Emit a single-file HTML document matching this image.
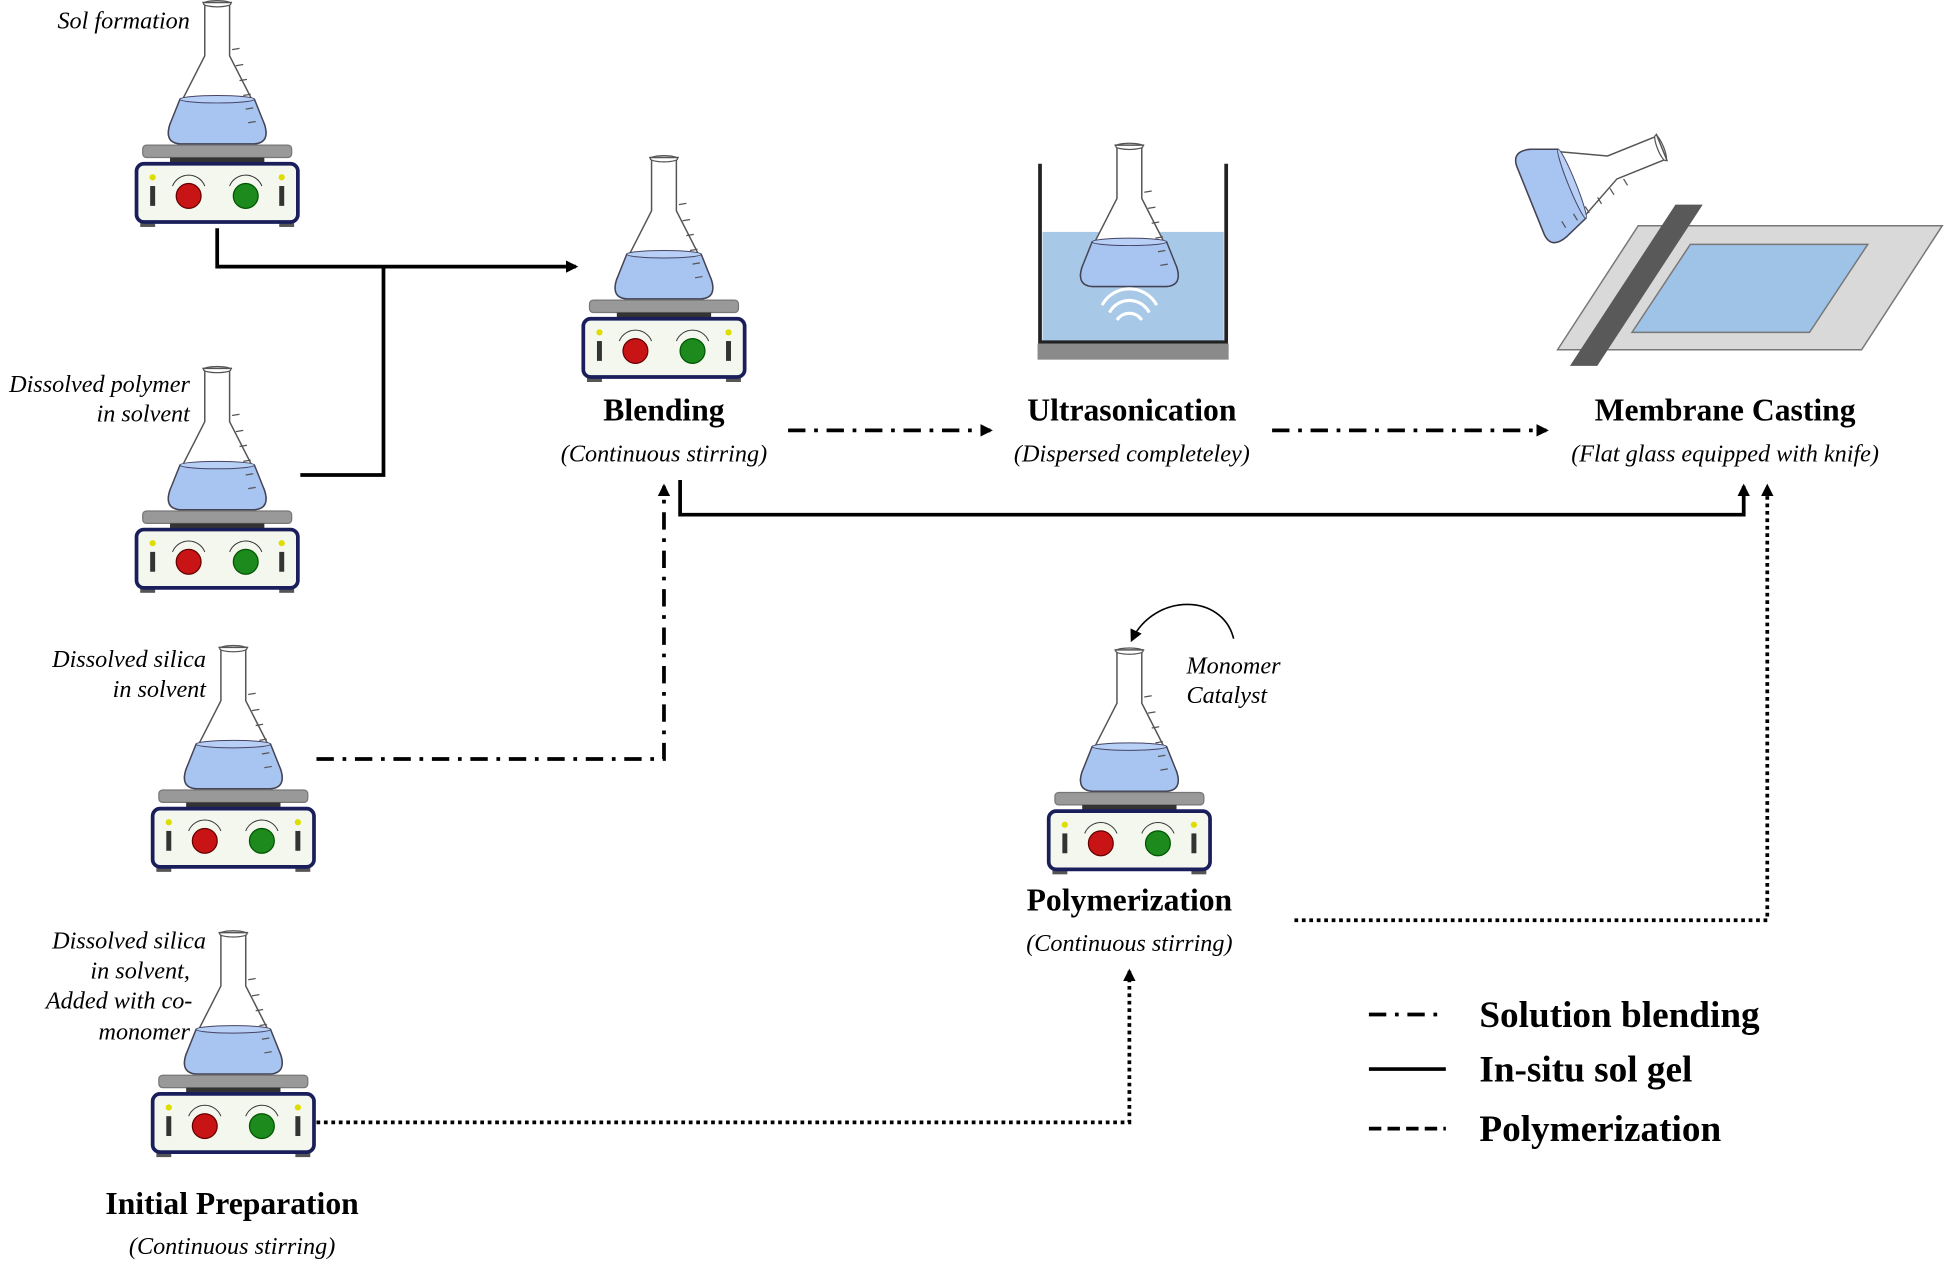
<!DOCTYPE html>
<html><head><meta charset="utf-8"><style>
html,body{margin:0;padding:0;background:#fff}
svg{display:block}
text{font-family:"Liberation Serif",serif}
.b{font-weight:bold;font-size:25.5px}
.i{font-style:italic;font-size:19.5px}
.l{font-weight:bold;font-size:30px}
</style></head><body>
<svg width="1946" height="1265" viewBox="0 0 1568 1020" preserveAspectRatio="none" xmlns="http://www.w3.org/2000/svg">
<defs>
<marker id="ar" markerWidth="10" markerHeight="10" refX="8" refY="5" orient="auto" markerUnits="userSpaceOnUse" viewBox="0 0 10 10"><path d="M0,0 L10,5 L0,10 z" fill="#000"/></marker>
<g id="flask">
  <path d="M-12,2 L12,2 M-10,4 L-10,45 L-38,100 Q-43,115 -30,116 L30,116 Q43,115 38,100 L10,45 L10,4" fill="#fff" stroke="#555" stroke-width="1.2"/>
  <ellipse cx="0" cy="3" rx="11" ry="2.5" fill="none" stroke="#555" stroke-width="1"/>
  <path d="M-30,80 L30,80 L38,100 Q43,115 30,116 L-30,116 Q-43,115 -38,100 z" fill="#a8c4f0" stroke="#445" stroke-width="1.2"/>
  <ellipse cx="0" cy="80" rx="30" ry="3" fill="#b8d0f5" stroke="#446" stroke-width="0.8"/>
  <path d="M12,40 l6,-1 M15,53 l6,-1 M18,65 l6,-1 M21,77 l6,-1 M23,88 l6,-1 M25,99 l6,-1" stroke="#555" stroke-width="1"/>
</g>
<g id="stir">
  <use href="#flask"/>
  <rect x="-60" y="117" width="120" height="10" rx="3" fill="#999" stroke="#777"/>
  <rect x="-38" y="127" width="76" height="6" fill="#333"/>
  <rect x="-62" y="177" width="12" height="6" fill="#555"/>
  <rect x="50" y="177" width="12" height="6" fill="#555"/>
  <rect x="-65" y="132" width="130" height="47" rx="6" fill="#f4f7ee" stroke="#1a1f5c" stroke-width="3"/>
  <circle cx="-23" cy="158" r="10" fill="#c81414" stroke="#600" stroke-width="1"/>
  <circle cx="23" cy="158" r="10" fill="#1c8a1c" stroke="#050" stroke-width="1"/>
  <path d="M-36,150 A14,14 0 0 1 -10,150 M10,150 A14,14 0 0 1 36,150" fill="none" stroke="#333" stroke-width="0.8"/>
  <circle cx="-52" cy="143" r="2.5" fill="#dd0"/>
  <circle cx="52" cy="143" r="2.5" fill="#dd0"/>
  <rect x="-54" y="150" width="4" height="16" fill="#333"/>
  <rect x="50" y="150" width="4" height="16" fill="#333"/>
</g>
</defs>

<use href="#stir" x="175" y="0"/>
<use href="#stir" x="175" y="295"/>
<use href="#stir" x="188" y="520"/>
<use href="#stir" x="188" y="750"/>
<use href="#stir" x="535" y="125"/>
<use href="#stir" x="910" y="522"/>

<!-- Ultrasonication -->
<rect x="840" y="187" width="146" height="88" fill="#a7c8e6"/>
<use href="#flask" x="910" y="115"/>
<path d="M838,132 L838,276 L988,276 L988,132" fill="none" stroke="#222" stroke-width="3"/>
<rect x="836" y="277" width="154" height="13" fill="#8a8a8a"/>
<path d="M900,258 A12,12 0 0 1 920,258 M894,252 A18,18 0 0 1 926,252 M888,246 A25,25 0 0 1 932,246" fill="none" stroke="#fff" stroke-width="2.5"/>

<!-- Membrane casting -->
<polygon points="1255,282 1320,182 1565,182 1500,282" fill="#d9d9d9" stroke="#777" stroke-width="1.2"/>
<polygon points="1315,268 1362,197 1505,197 1458,268" fill="#9fc3e7" stroke="#777" stroke-width="1.2"/>
<polygon points="1350,165 1372,165 1287,295 1265,295" fill="#595959"/>
<g transform="translate(1262,150) rotate(68) translate(0,-85)">
  <use href="#flask"/>
</g>

<!-- labels -->
<g text-anchor="middle">
<text class="b" x="535" y="339">Blending</text>
<text class="i" x="535" y="372">(Continuous stirring)</text>
<text class="b" x="912" y="339">Ultrasonication</text>
<text class="i" x="912" y="372">(Dispersed completeley)</text>
<text class="b" x="1390" y="339">Membrane Casting</text>
<text class="i" x="1390" y="372">(Flat glass equipped with knife)</text>
<text class="b" x="910" y="734">Polymerization</text>
<text class="i" x="910" y="767">(Continuous stirring)</text>
<text class="b" x="187" y="979">Initial Preparation</text>
<text class="i" x="187" y="1011">(Continuous stirring)</text>
</g>
<g text-anchor="end">
<text class="i" x="153" y="23">Sol formation</text>
<text class="i" x="153" y="316">Dissolved polymer</text>
<text class="i" x="153" y="340">in solvent</text>
<text class="i" x="166" y="538">Dissolved silica</text>
<text class="i" x="166" y="562">in solvent</text>
<text class="i" x="166" y="765">Dissolved silica</text>
<text class="i" x="153" y="789">in solvent,</text>
<text class="i" x="155" y="813">Added with co-</text>
<text class="i" x="153" y="838">monomer</text>
</g>
<text class="i" x="956" y="543">Monomer</text>
<text class="i" x="956" y="567">Catalyst</text>

<!-- connectors -->
<g fill="none" stroke="#000" stroke-width="3">
<path d="M175,184 L175,215 L464,215" marker-end="url(#ar)"/>
<path d="M242,383 L309,383 L309,215"/>
<path d="M548,387 L548,415 L1405,415 L1405,392" marker-end="url(#ar)"/>
<path d="M255,612 L535,612 L535,392" stroke-dasharray="14,7,3,7" marker-end="url(#ar)"/>
<path d="M635,347 L798,347" stroke-dasharray="14,7,3,7" marker-end="url(#ar)"/>
<path d="M1025,347 L1246,347" stroke-dasharray="14,7,3,7" marker-end="url(#ar)"/>
<path d="M255,905 L910,905 L910,783" stroke-dasharray="3,3" marker-end="url(#ar)"/>
<path d="M1043,742 L1424,742 L1424,392" stroke-dasharray="3,3" marker-end="url(#ar)"/>
<path d="M1103,818 L1165,818" stroke-dasharray="14,7,3,7"/>
<path d="M1103,862 L1165,862"/>
<path d="M1103,910 L1165,910" stroke-dasharray="10,5"/>
</g>
<path d="M994,515 C985,478 930,478 912,516" fill="none" stroke="#000" stroke-width="1.3" marker-end="url(#ar)"/>

<text class="l" x="1192" y="828">Solution blending</text>
<text class="l" x="1192" y="872">In-situ sol gel</text>
<text class="l" x="1192" y="920">Polymerization</text>
</svg>
</body></html>
